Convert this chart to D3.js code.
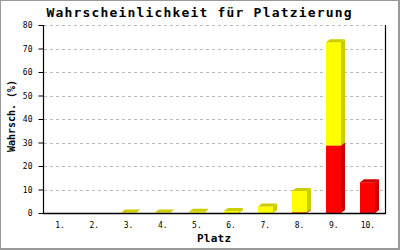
<!DOCTYPE html>
<html><head><meta charset="utf-8">
<script src="https://cdn.jsdelivr.net/npm/d3@7"></script>
<style>body{margin:0;background:#fff}svg{display:block}</style>
</head><body>
<script>
const categories = ["1.","2.","3.","4.","5.","6.","7.","8.","9.","10."];
const redValues    = [0, 0, 0, 0, 0, 0, 0, 0.3, 28.7, 13.1];
const yellowValues = [0, 0, 0.2, 0.2, 0.5, 0.8, 2.8, 9.1, 44.0, 0];
const yTicks = [0,10,20,30,40,50,60,70,80];
const title = "Wahrscheinlichkeit für Platzierung";
const yTitle = "Wahrsch. (%)";
const xTitle = "Platz";

(function(){
const W = 400, H = 250;
const svg = d3.select("body").append("svg").attr("width", W).attr("height", H);
svg.append("rect").attr("width", W).attr("height", H).attr("fill", "#999");
svg.append("rect").attr("x",1).attr("y",1).attr("width",W-3).attr("height",H-3).attr("fill","#fff");

const pL = 43, pR = 385, pT = 25, pB = 213;
const x = d3.scaleBand().domain(categories).range([pL, pR]).paddingInner(0).paddingOuter(0);
const y = d3.scaleLinear().domain([0, 80]).range([pB, pT]);
const mono = "'DejaVu Sans Mono', 'Liberation Mono', monospace";

// grid
svg.append("g").selectAll("line").data(yTicks.filter(d=>d>0)).join("line")
  .attr("x1", pL+1).attr("x2", pR-1)
  .attr("y1", d=>Math.round(y(d))+0.5).attr("y2", d=>Math.round(y(d))+0.5)
  .attr("stroke", "#bbb").attr("stroke-dasharray", "3,3");

// bars (stacked, 3D)
const bw = 15, dx = 4, dy = 3;
const series = [
  {vals: redValues, base: redValues.map(()=>0), front: "#ff0000", dark: "#cc0000"},
  {vals: yellowValues, base: redValues, front: "#ffff00", dark: "#cccc00"}
];
const gb = svg.append("g");
series.forEach(s => {
  categories.forEach((c, i) => {
    const v = s.vals[i]; if (!(v > 0)) return;
    const cx = x(c) + x.bandwidth()/2;
    const x0 = Math.round(cx - bw/2), x1 = x0 + bw;
    const y0 = y(s.base[i]), y1 = y(s.base[i] + v);
    gb.append("rect").attr("x", x0).attr("y", y1).attr("width", bw).attr("height", y0 - y1).attr("fill", s.front);
    gb.append("polygon").attr("points", [[x1,y1],[x1+dx,y1-dy],[x1+dx,y0-dy],[x1,y0]].join(" ")).attr("fill", s.dark);
    gb.append("polygon").attr("points", [[x0,y1],[x0+dx,y1-dy],[x1+dx,y1-dy],[x1,y1]].join(" ")).attr("fill", s.dark);
  });
});

// axes
const ya = d3.axisLeft(y).tickValues(yTicks).tickSize(5).tickPadding(6).tickFormat(d3.format("d"));
const gy = svg.append("g").attr("transform", `translate(${pL+0.5},0)`).call(ya);
gy.select(".domain").attr("stroke", "#000").attr("stroke-width", 1.2).attr("d", `M0,${pT}V${pB}`);
gy.selectAll(".tick line").attr("stroke", "#000");
gy.selectAll("text").attr("font-family", mono).attr("font-size", 8).attr("fill", "#000");

const xa = d3.axisBottom(x).tickSize(0).tickPadding(9);
const gx = svg.append("g").attr("transform", `translate(0,${pB+0.5})`).call(xa);
gx.select(".domain").attr("stroke", "#000").attr("stroke-width", 1.5).attr("d", `M${pL},0H${pR+1}`);
gx.selectAll("text").attr("font-family", mono).attr("font-size", 8).attr("fill", "#000");

// right border
svg.append("line").attr("x1", pR+0.5).attr("x2", pR+0.5).attr("y1", pT).attr("y2", pB)
  .attr("stroke", "#000").attr("stroke-width", 1.2);

// titles
svg.append("text").attr("x", 199).attr("y", 17).attr("text-anchor", "middle")
  .attr("font-family", mono).attr("font-weight", "bold").attr("font-size", 13)
  .attr("textLength", 305).attr("lengthAdjust", "spacing").text(title);
svg.append("text").attr("transform", "translate(15,116) rotate(-90)").attr("text-anchor", "middle")
  .attr("font-family", mono).attr("font-weight", "bold").attr("font-size", 10)
  .attr("textLength", 72).attr("lengthAdjust", "spacing").text(yTitle);
svg.append("text").attr("x", 214).attr("y", 242).attr("text-anchor", "middle")
  .attr("font-family", mono).attr("font-weight", "bold").attr("font-size", 11)
  .attr("textLength", 34).attr("lengthAdjust", "spacing").text(xTitle);
})();
</script>
</body></html>
